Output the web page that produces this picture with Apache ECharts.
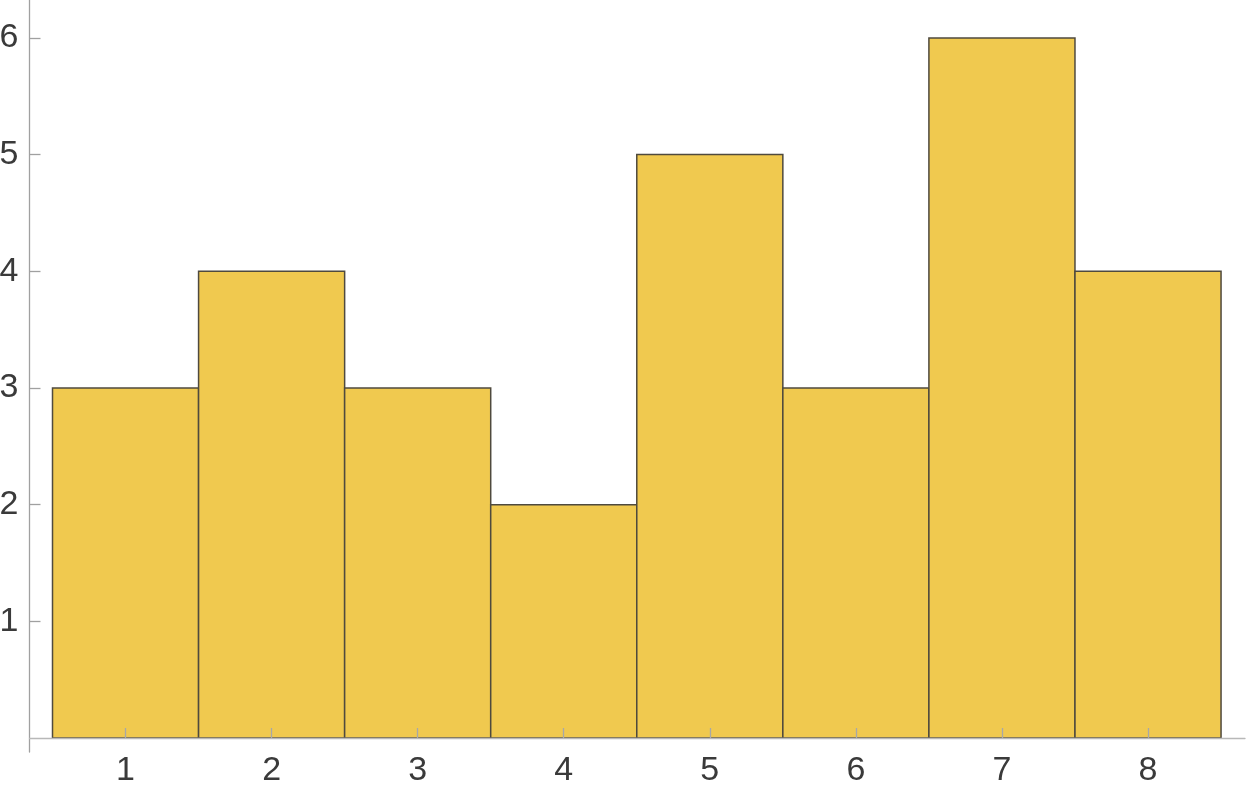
<!DOCTYPE html>
<html><head><meta charset="utf-8">
<script src="https://cdn.jsdelivr.net/npm/echarts@6/dist/echarts.min.js"></script>
<style>html,body{margin:0;padding:0;background:#fff}#c{width:1250px;height:791px}</style>
</head><body><div id="c"></div>
<script>
const categories = [1, 2, 3, 4, 5, 6, 7, 8];
const values = [3, 4, 3, 2, 5, 3, 6, 4];
const yTicks = [1, 2, 3, 4, 5, 6];

const chart = echarts.init(document.getElementById('c'), null, {renderer: 'canvas'});
const data = categories.map((c, i) => [c, values[i]]);
chart.setOption({
  animation: false,
  grid: {left: 29.5, right: 5, top: 0, bottom: 39, containLabel: false, outerBoundsMode: 'none'},
  xAxis: {
    type: 'value', min: 0.3425, max: 8.664, z: 5,
    axisLine: {show: true, onZero: true, lineStyle: {color: '#b8b8b8', width: 1.3}},
    axisTick: {show: true, inside: true, length: 10, customValues: categories, lineStyle: {color: '#a8a8a8', width: 1.3}},
    axisLabel: {customValues: categories, fontSize: 34, color: '#3a3a3a', fontFamily: '"Liberation Sans", Arial, sans-serif', margin: 2},
    splitLine: {show: false}
  },
  yAxis: {
    type: 'value', min: -0.12, max: 6.325, z: 5,
    axisLine: {show: true, onZero: false, lineStyle: {color: '#a0a0a0', width: 1.3}},
    axisTick: {show: true, inside: true, length: 11, customValues: yTicks, lineStyle: {color: '#a0a0a0', width: 1.3}},
    axisLabel: {customValues: yTicks, fontSize: 34, color: '#3a3a3a', fontFamily: '"Liberation Sans", Arial, sans-serif', margin: 11},
    splitLine: {show: false}
  },
  series: [{
    type: 'custom',
    data: data,
    z: 1,
    renderItem: function (params, api) {
      const x = api.value(0), y = api.value(1);
      const p0 = api.coord([x - 0.5, 0]);
      const p1 = api.coord([x + 0.5, y]);
      return {
        type: 'rect',
        shape: {x: p0[0], y: p1[1], width: p1[0] - p0[0], height: p0[1] - p1[1]},
        style: {fill: '#f0c94f', stroke: '#4f4a3e', lineWidth: 1.5}
      };
    }
  }]
});
</script>
</body></html>
